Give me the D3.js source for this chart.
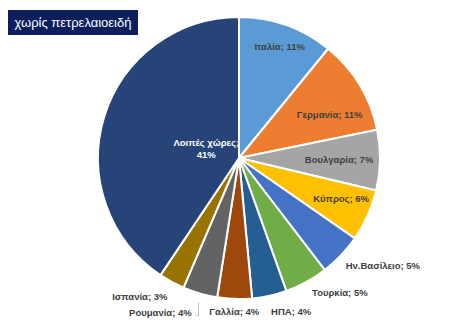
<!DOCTYPE html>
<html>
<head>
<meta charset="utf-8">
<script src="https://cdn.jsdelivr.net/npm/d3@7"></script>
<style>
  html, body { margin: 0; padding: 0; background: #ffffff; }
  svg { display: block; }
</style>
</head>
<body>
<svg id="chart" width="472" height="330"></svg>
<script>
// Country shares (%)
const countries = ["Ιταλία", "Γερμανία", "Βουλγαρία", "Κύπρος", "Ην.Βασίλειο",
                   "Τουρκία", "ΗΠΑ", "Γαλλία", "Ρουμανία", "Ισπανία", "Λοιπές χώρες"];
const shares = [11, 11, 7, 6, 5, 5, 4, 4, 4, 3, 41];
const title = "χωρίς πετρελαιοειδή";

const palette = ["#5b9bd5", "#ed7d31", "#a5a5a5", "#ffc000", "#4472c4", "#70ad47",
                 "#255e91", "#9e480e", "#636363", "#997300", "#264478"];

const W = 472, H = 330;
const cx = 239, cy = 158, R = 141;

const svg = d3.select("#chart");

// Title box
const tg = svg.append("g");
tg.append("rect").attr("x", 8).attr("y", 10).attr("width", 130).attr("height", 25)
  .attr("fill", "#0c1f5c");
tg.append("text").attr("x", 73).attr("y", 22.5)
  .attr("text-anchor", "middle").attr("dominant-baseline", "central")
  .attr("fill", "#ffffff")
  .style("font-family", "'Liberation Sans', 'Noto Sans', sans-serif")
  .style("font-size", "13px")
  .text(title);

const data = countries.map((c, i) => ({ name: c, value: shares[i] }));

const pie = d3.pie().value(d => d.value).sort(null);
const arcs = pie(data);
const arc = d3.arc().innerRadius(0).outerRadius(R);

const g = svg.append("g").attr("transform", `translate(${cx},${cy})`);

g.selectAll("path.slice").data(arcs).enter().append("path")
  .attr("class", "slice")
  .attr("d", arc)
  .attr("fill", (d, i) => palette[i])
  .attr("stroke", "#ffffff")
  .attr("stroke-width", 2)
  .attr("stroke-linejoin", "round");

// Label placement: radial factor from the slice mid-angle plus a small nudge
const labelLayout = [
  { k: 0.84, dx: 1,  dy: 0,  anchor: "middle", color: "#404040" },
  { k: 0.71, dx: 5,  dy: 8,  anchor: "middle", color: "#404040" },
  { k: 0.71, dx: 0,  dy: 0,  anchor: "middle", color: "#404040" },
  { k: 0.77, dx: 3,  dy: -4, anchor: "middle", color: "#404040" },
  { k: 1.085, dx: -4, dy: 2, anchor: "start",  color: "#404040" },
  { k: 1.085, dx: 0, dy: 0,  anchor: "start",  color: "#404040" },
  { k: 1.085, dx: -1, dy: 4.5, anchor: "start", color: "#404040" },
  { k: 1.085, dx: 0, dy: 1,  anchor: "middle", color: "#404040" },
  { k: 1.085, dx: -5, dy: 7.5, anchor: "end",  color: "#404040" },
  { k: 1.085, dx: 1.5, dy: 4.5, anchor: "end", color: "#404040" },
  { k: 0.25, dx: 1,  dy: 1,  anchor: "middle", color: "#ffffff" }
];

function polar(angle, dist) {
  return [dist * Math.sin(angle), -dist * Math.cos(angle)];
}

const labelFont = "'Liberation Sans', 'Noto Sans', sans-serif";

arcs.forEach((d, i) => {
  const L = labelLayout[i];
  const mid = (d.startAngle + d.endAngle) / 2;
  const [px, py] = polar(mid, R * L.k);
  const x = px + L.dx, y = py + L.dy;
  const t = g.append("text")
    .attr("x", x).attr("y", y)
    .attr("text-anchor", L.anchor)
    .attr("fill", L.color)
    .style("font-family", labelFont)
    .style("font-size", "9.5px")
    .style("font-weight", "bold");
  if (d.data.name === "Λοιπές χώρες") {
    t.append("tspan").attr("x", x).attr("dy", "-0.25em").text(d.data.name + ";");
    t.append("tspan").attr("x", x).attr("dy", "1.25em").text(d.data.value + "%");
  } else {
    t.attr("dominant-baseline", "central").text(`${d.data.name}; ${d.data.value}%`);
  }
  // leader line for the Romania label
  if (d.data.name === "Ρουμανία") {
    const edge = polar(mid, R + 9);
    const lx = edge[0] + 1;
    const ly = y + 3;
    g.append("polyline")
      .attr("points", `${lx},${edge[1]} ${lx},${ly} ${x + 4},${ly}`)
      .attr("fill", "none")
      .attr("stroke", "#bfbfbf")
      .attr("stroke-width", 1);
  }
});
</script>
</body>
</html>
